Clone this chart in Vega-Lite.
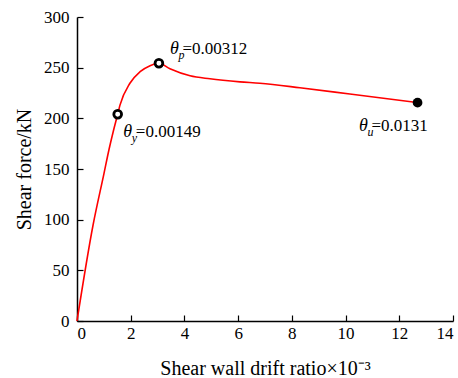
{
  "$schema": "https://vega.github.io/schema/vega-lite/v6.json",
  "width": 376,
  "height": 304,
  "autosize": {"type": "none"},
  "padding": {"left": 77, "top": 17, "right": 5, "bottom": 57},
  "background": "white",
  "config": {
    "view": {"stroke": null},
    "font": "Liberation Serif",
    "axis": {
      "grid": false,
      "domainColor": "black",
      "domainWidth": 1.5,
      "tickColor": "black",
      "tickWidth": 1.2,
      "tickSize": -6,
      "labelFont": "Liberation Serif",
      "labelFontSize": 17,
      "labelColor": "black",
      "titleFont": "Liberation Serif",
      "titleFontSize": 20,
      "titleFontWeight": "normal",
      "titleColor": "black"
    }
  },
  "datasets": {
    "curve": [
      {"x": 0, "y": 0},
      {"x": 0.6, "y": 95},
      {"x": 1.0, "y": 145},
      {"x": 1.19, "y": 169},
      {"x": 1.35, "y": 187},
      {"x": 1.515, "y": 204},
      {"x": 1.6, "y": 213},
      {"x": 1.97, "y": 234.6},
      {"x": 2.35, "y": 246},
      {"x": 2.72, "y": 252},
      {"x": 3.05, "y": 254.3},
      {"x": 3.46, "y": 249},
      {"x": 4.21, "y": 242},
      {"x": 4.95, "y": 239},
      {"x": 6.07, "y": 236},
      {"x": 6.81, "y": 234.6},
      {"x": 8.3, "y": 230.2},
      {"x": 10.16, "y": 224},
      {"x": 12.68, "y": 215.5}
    ],
    "open": [
      {"x": 1.515, "y": 204},
      {"x": 3.05, "y": 254.3}
    ],
    "filled": [
      {"x": 12.68, "y": 215.5}
    ],
    "labels": [
      {"x": 1.724, "y": 181.6, "sub": "y", "val": "=0.00149"},
      {"x": 3.463, "y": 263.5, "sub": "p", "val": "=0.00312"},
      {"x": 10.5, "y": 187.5, "sub": "u", "val": "=0.0131"}
    ]
  },
  "layer": [
    {
      "data": {"name": "curve"},
      "mark": {"type": "line", "color": "#ff0000", "strokeWidth": 1.6, "interpolate": "monotone"},
      "encoding": {
        "x": {
          "field": "x", "type": "quantitative",
          "scale": {"domain": [0, 14], "nice": false},
          "axis": {"values": [0, 2, 4, 6, 8, 10, 12, 14], "title": "Shear wall drift ratio×10⁻³", "labelPadding": 10, "titlePadding": 17}
        },
        "y": {
          "field": "y", "type": "quantitative",
          "scale": {"domain": [0, 300], "nice": false},
          "axis": {"values": [0, 50, 100, 150, 200, 250, 300], "title": "Shear force/kN", "labelPadding": 14, "titlePadding": 9}
        }
      }
    },
    {
      "data": {"name": "open"},
      "mark": {"type": "point", "shape": "circle", "filled": false, "stroke": "black", "strokeWidth": 2.8, "fill": "white", "size": 60, "opacity": 1},
      "encoding": {
        "x": {"field": "x", "type": "quantitative"},
        "y": {"field": "y", "type": "quantitative"}
      }
    },
    {
      "data": {"name": "filled"},
      "mark": {"type": "point", "shape": "circle", "filled": true, "color": "black", "size": 95, "opacity": 1},
      "encoding": {
        "x": {"field": "x", "type": "quantitative"},
        "y": {"field": "y", "type": "quantitative"}
      }
    },
    {
      "data": {"name": "labels"},
      "mark": {"type": "text", "text": "θ", "align": "left", "baseline": "alphabetic", "fontStyle": "italic", "fontSize": 18, "font": "Liberation Serif", "color": "black"},
      "encoding": {
        "x": {"field": "x", "type": "quantitative"},
        "y": {"field": "y", "type": "quantitative"}
      }
    },
    {
      "data": {"name": "labels"},
      "mark": {"type": "text", "align": "left", "baseline": "alphabetic", "fontStyle": "italic", "fontSize": 12, "font": "Liberation Serif", "color": "black", "dx": 8.5, "dy": 5},
      "encoding": {
        "x": {"field": "x", "type": "quantitative"},
        "y": {"field": "y", "type": "quantitative"},
        "text": {"field": "sub"}
      }
    },
    {
      "data": {"name": "labels"},
      "mark": {"type": "text", "align": "left", "baseline": "alphabetic", "fontSize": 17, "font": "Liberation Serif", "color": "black", "dx": 12.5},
      "encoding": {
        "x": {"field": "x", "type": "quantitative"},
        "y": {"field": "y", "type": "quantitative"},
        "text": {"field": "val"}
      }
    }
  ]
}
